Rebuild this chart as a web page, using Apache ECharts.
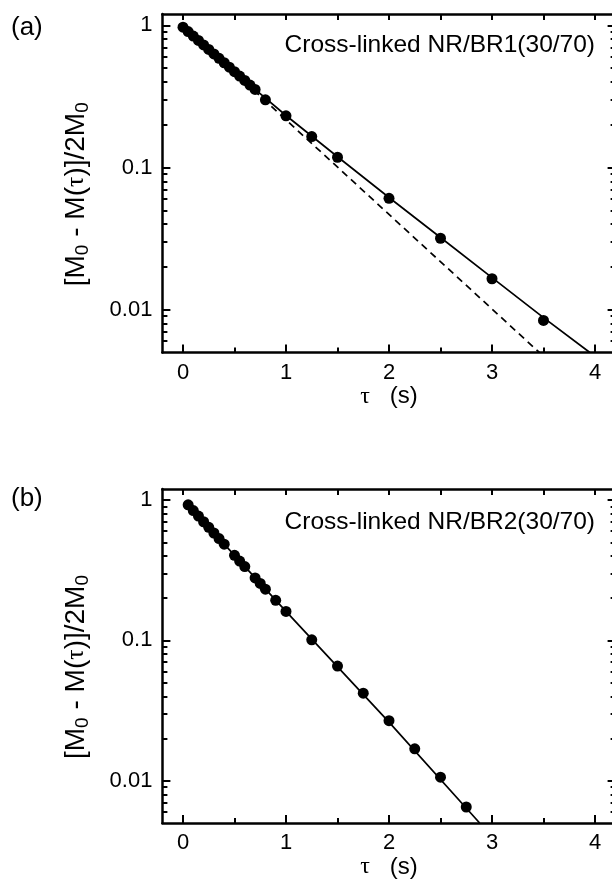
<!DOCTYPE html>
<html>
<head>
<meta charset="utf-8">
<script src="https://cdn.jsdelivr.net/npm/echarts@6/dist/echarts.min.js"></script>
<style>
html, body { margin: 0; padding: 0; overflow: hidden; background: #fff; }
#chart { width: 620px; height: 880px; }
</style>
</head>
<body>
<div id="chart"></div>
<script>
// panel (a) - Cross-linked NR/BR1(30/70)
const tauA = [0, 0.05, 0.1, 0.15, 0.2, 0.25, 0.3, 0.35, 0.4, 0.45, 0.5, 0.55, 0.6, 0.65, 0.7,
              0.8, 1.0, 1.25, 1.5, 2.0, 2.5, 3.0, 3.5];
const valA = [0.970, 0.903, 0.840, 0.782, 0.727, 0.676, 0.629, 0.586, 0.545, 0.507, 0.472, 0.439, 0.409, 0.380, 0.354,
              0.299, 0.231, 0.165, 0.118, 0.0607, 0.0318, 0.0165, 0.0084];
// fitted line (solid) and single-exponential line (dashed)
const fitTauA = [0, 0.7, 1.0, 1.5, 2.0, 2.5, 3.0, 3.5, 3.95];
const fitA = [0.970, 0.354, 0.232, 0.119, 0.0615, 0.0322, 0.0168, 0.0088, 0.005];
const dashTauA = [0, 3.46];
const dashA = [1.0, 0.005];

// panel (b) - Cross-linked NR/BR2(30/70)
const tauB = [0.05, 0.1, 0.15, 0.2, 0.25, 0.3, 0.35, 0.4, 0.5, 0.55, 0.6, 0.7, 0.75, 0.8, 0.9, 1.0,
              1.25, 1.5, 1.75, 2.0, 2.25, 2.5, 2.75];
const valB = [0.925, 0.843, 0.769, 0.701, 0.640, 0.583, 0.532, 0.485, 0.404, 0.368, 0.336, 0.279, 0.255, 0.232, 0.193, 0.161,
              0.101, 0.0657, 0.0421, 0.0268, 0.0169, 0.0106, 0.0065];
const fitTauB = [0.05, 1.0, 2.0, 2.88];
const fitB = [0.925, 0.161, 0.0262, 0.005];

// ticks
const xMajor = [0, 1, 2, 3, 4];
const xMinor = [0.5, 1.5, 2.5, 3.5];
const xTop = [0, 0.5, 1, 1.5, 2, 2.5, 3, 3.5, 4];
const yMajor = [0.01, 0.1, 1];
const yMinor = [0.006, 0.007, 0.008, 0.009,
                0.02, 0.03, 0.04, 0.05, 0.06, 0.07, 0.08, 0.09,
                0.2, 0.3, 0.4, 0.5, 0.6, 0.7, 0.8, 0.9];

const FONT = '"Liberation Sans", Arial, sans-serif';
const SERIF = '"Liberation Serif", "DejaVu Serif", serif';
const X_MIN = -0.2, X_MAX = 4.2, Y_MIN = 0.005, Y_MAX = 1.2;
const black = { color: '#000', width: 2 };

function pairs(xs, ys) {
  return xs.map((x, i) => [x, ys[i]]);
}

// 3 x-axes per grid: bottom major (labels + name), bottom minor, top
function xAxesFor(g) {
  const base = { type: 'value', gridIndex: g, min: X_MIN, max: X_MAX,
    splitLine: { show: false }, axisLabel: { show: false } };
  return [
    Object.assign({}, base, {
      position: 'bottom',
      axisLine: { show: true, onZero: false, lineStyle: { color: '#000', width: 2.5 } },
      axisTick: { show: true, inside: true, length: 8, customValues: xMajor, lineStyle: black },
      axisLabel: { show: true, customValues: xMajor, margin: 9, color: '#000',
        fontFamily: FONT, fontSize: 22 },
      name: '{g|τ}{t|   (s)}',
      nameLocation: 'middle',
      nameGap: 30,
      nameTextStyle: {
        rich: {
          g: { fontFamily: SERIF, fontSize: 24, color: '#000' },
          t: { fontFamily: FONT, fontSize: 24, color: '#000' }
        }
      }
    }),
    Object.assign({}, base, {
      position: 'bottom',
      axisLine: { show: false, onZero: false },
      axisTick: { show: true, inside: true, length: 5, customValues: xMinor, lineStyle: black }
    }),
    Object.assign({}, base, {
      position: 'top',
      axisLine: { show: true, onZero: false, lineStyle: { color: '#000', width: 2.5 } },
      axisTick: { show: true, inside: true, length: 6, customValues: xTop, lineStyle: black }
    })
  ];
}

// 4 y-axes per grid: left major (labels + name), left minor, right major, right minor
function yAxesFor(g) {
  const base = { type: 'log', logBase: 10, gridIndex: g, min: Y_MIN, max: Y_MAX,
    splitLine: { show: false }, axisLabel: { show: false } };
  return [
    Object.assign({}, base, {
      position: 'left',
      axisLine: { show: true, onZero: false, lineStyle: { color: '#000', width: 2.5 } },
      axisTick: { show: true, inside: true, length: 8, customValues: yMajor, lineStyle: black },
      axisLabel: { show: true, customValues: yMajor, margin: 10, color: '#000',
        fontFamily: FONT, fontSize: 22,
        formatter: v => (v >= 1 ? '1' : String(+v.toPrecision(3))) },
      name: '{t|[M}{s|0}{t| - M(}{g|τ}{t|)]/2M}{s|0}',
      nameLocation: 'middle',
      nameGap: 70,
      nameTextStyle: {
        padding: [0, 22, 0, 0],
        rich: {
          t: { fontFamily: FONT, fontSize: 28, color: '#000', lineHeight: 32 },
          g: { fontFamily: SERIF, fontSize: 26, color: '#000', lineHeight: 32 },
          s: { fontFamily: FONT, fontSize: 19, color: '#000', lineHeight: 19, verticalAlign: 'bottom' }
        }
      }
    }),
    Object.assign({}, base, {
      position: 'left',
      axisLine: { show: false, onZero: false },
      axisTick: { show: true, inside: true, length: 5, customValues: yMinor, lineStyle: black }
    }),
    Object.assign({}, base, {
      position: 'right',
      axisLine: { show: true, onZero: false, lineStyle: { color: '#000', width: 2.5 } },
      axisTick: { show: true, inside: true, length: 8, customValues: yMajor, lineStyle: black }
    }),
    Object.assign({}, base, {
      position: 'right',
      axisLine: { show: false, onZero: false },
      axisTick: { show: true, inside: true, length: 5, customValues: yMinor, lineStyle: black }
    })
  ];
}

function lineSeries(xi, yi, data, dashed) {
  return {
    type: 'line', xAxisIndex: xi, yAxisIndex: yi, data: data,
    showSymbol: false, symbol: 'none', silent: true, z: 2, clip: true,
    lineStyle: { color: '#000', width: 1.7, type: dashed ? [7, 5] : 'solid' }
  };
}

function dotSeries(xi, yi, data) {
  return {
    type: 'scatter', xAxisIndex: xi, yAxisIndex: yi, data: data,
    symbol: 'circle', symbolSize: 11, z: 3,
    itemStyle: { color: '#000', opacity: 1 }
  };
}

const myChart = echarts.init(document.getElementById('chart'), null, { renderer: 'canvas' });

myChart.setOption({
  backgroundColor: '#fff',
  animation: false,
  grid: [
    { left: 162.4, top: 14, width: 453.2, height: 338.5 },
    { left: 162.4, top: 489, width: 453.2, height: 334 }
  ],
  xAxis: xAxesFor(0).concat(xAxesFor(1)),
  yAxis: yAxesFor(0).concat(yAxesFor(1)),
  graphic: [
    { type: 'text', left: 11, top: 15,
      style: { text: '(a)', font: '26px ' + FONT, fill: '#000' } },
    { type: 'text', left: 11, top: 486,
      style: { text: '(b)', font: '26px ' + FONT, fill: '#000' } },
    { type: 'text', x: 595, y: 45,
      style: { text: 'Cross-linked NR/BR1(30/70)', font: '24.5px ' + FONT, fill: '#000',
        textAlign: 'right', textVerticalAlign: 'middle' } },
    { type: 'text', x: 595, y: 522,
      style: { text: 'Cross-linked NR/BR2(30/70)', font: '24.5px ' + FONT, fill: '#000',
        textAlign: 'right', textVerticalAlign: 'middle' } }
  ],
  series: [
    lineSeries(0, 0, pairs(fitTauA, fitA), false),
    lineSeries(0, 0, pairs(dashTauA, dashA), true),
    dotSeries(0, 0, pairs(tauA, valA)),
    lineSeries(3, 4, pairs(fitTauB, fitB), false),
    dotSeries(3, 4, pairs(tauB, valB))
  ]
});
</script>
</body>
</html>
